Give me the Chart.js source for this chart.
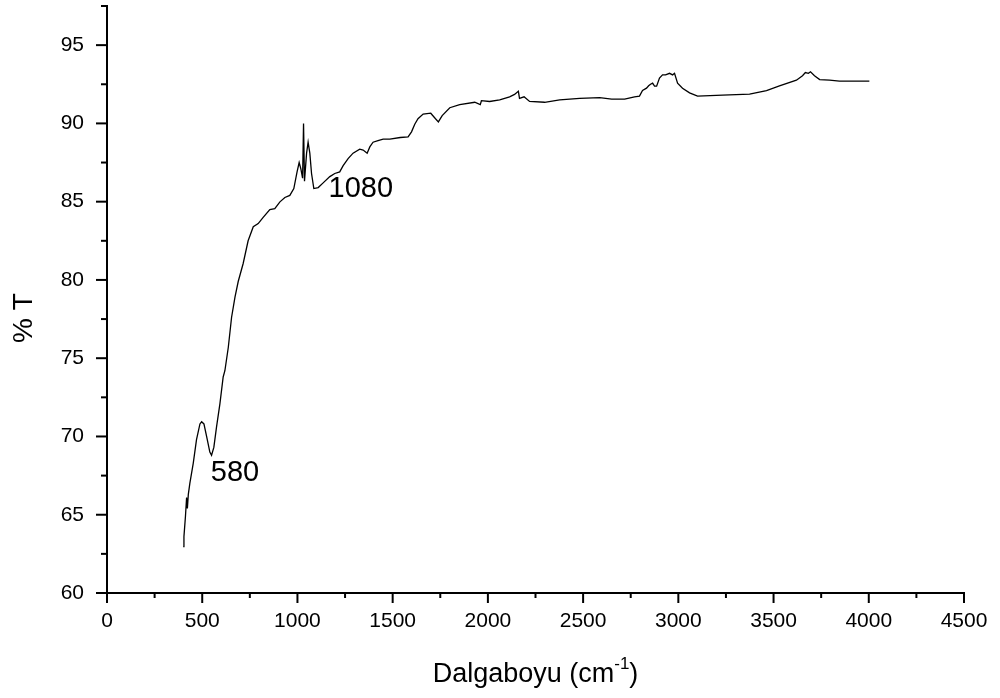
<!DOCTYPE html>
<html>
<head>
<meta charset="utf-8">
<script src="https://cdn.jsdelivr.net/npm/chart.js@4"></script>
<style>
  body { margin: 0; background: #fff; }
  #wrap { width: 1000px; height: 698px; }
</style>
</head>
<body>
<div id="wrap"><canvas id="ftirChart" width="1000" height="698"></canvas></div>
<script>
// FTIR spectrum
const wavenumber = [
  400, 404, 412, 418, 422, 427, 435, 453, 470, 488, 497, 509, 523, 540, 549, 561, 575, 593, 610, 619,
  637, 654, 672, 689, 715, 741, 768, 794, 820, 855, 881, 908, 934, 960, 981, 998, 1009, 1018, 1027, 1032,
  1037, 1048, 1056, 1065, 1074, 1086, 1109, 1135, 1170, 1196, 1222, 1240, 1266, 1292, 1327, 1345, 1366, 1380, 1397, 1423,
  1450, 1485, 1540, 1581, 1599, 1616, 1633, 1660, 1700, 1725, 1740, 1760, 1800, 1852, 1931, 1960, 1966, 2009, 2062, 2114,
  2140, 2160, 2166, 2190, 2219, 2298, 2377, 2482, 2587, 2650, 2718, 2770, 2796, 2812, 2833, 2844, 2854, 2865, 2875, 2886,
  2901, 2917, 2933, 2954, 2970, 2980, 2996, 3022, 3059, 3101, 3232, 3374, 3463, 3531, 3620, 3652, 3667, 3683, 3694, 3715,
  3742, 3794, 3846, 3925, 4003
];
const transmittance = [
  62.96, 63.6, 64.9, 66.1, 65.4, 66.3, 67.0, 68.3, 69.8, 70.8, 70.94, 70.8, 70.0, 69.0, 68.8, 69.3, 70.6, 72.1, 73.8, 74.2,
  75.7, 77.6, 78.9, 79.9, 81.05, 82.5, 83.4, 83.6, 84.0, 84.5, 84.56, 84.99, 85.27, 85.4, 85.84, 86.9, 87.5, 87.1, 86.5, 90.0,
  86.3, 88.1, 88.8, 88.1, 86.8, 85.84, 85.9, 86.2, 86.6, 86.8, 86.9, 87.3, 87.75, 88.1, 88.35, 88.3, 88.1, 88.5, 88.8, 88.9,
  89.0, 89.0, 89.1, 89.14, 89.46, 89.95, 90.3, 90.6, 90.65, 90.3, 90.1, 90.5, 91.0, 91.2, 91.35, 91.2, 91.45, 91.4, 91.5, 91.7,
  91.85, 92.05, 91.6, 91.7, 91.4, 91.35, 91.5, 91.6, 91.65, 91.55, 91.55, 91.7, 91.74, 92.1, 92.25, 92.4, 92.5, 92.57, 92.38, 92.38,
  92.9, 93.1, 93.1, 93.2, 93.1, 93.2, 92.57, 92.25, 91.95, 91.74, 91.8, 91.87, 92.1, 92.4, 92.76, 93.05, 93.25, 93.2, 93.3, 93.05,
  92.8, 92.76, 92.7, 92.7, 92.7
];

// peak labels
const peakLabels = ["1080", "580"];
const peakX = [1333, 672];
const peakY = [85.8, 67.66];

const xTitle = "Dalgaboyu (cm";
const xTitleSup = "-1";
const yTitle = "% T";

const FONT = "Arial, 'Liberation Sans', sans-serif";

// tick marks and texts drawn on top of the chart
const extrasPlugin = {
  id: "extras",
  afterDraw(chart) {
    const ctx = chart.ctx;
    const xs = chart.scales.x;
    const ys = chart.scales.y;
    const area = chart.chartArea;
    ctx.save();
    ctx.strokeStyle = "#000";
    ctx.lineWidth = 2;

    // x ticks, major every 500
    xs.ticks.forEach((t) => {
      const px = xs.getPixelForValue(t.value);
      const len = t.value % 500 === 0 ? 10 : 5;
      ctx.beginPath();
      ctx.moveTo(px, area.bottom);
      ctx.lineTo(px, area.bottom + len);
      ctx.stroke();
    });
    // y ticks, major every 5
    ys.ticks.forEach((t) => {
      const py = ys.getPixelForValue(t.value);
      const len = t.value % 5 === 0 ? 11 : 6;
      ctx.beginPath();
      ctx.moveTo(area.left, py);
      ctx.lineTo(area.left - len, py);
      ctx.stroke();
    });

    ctx.fillStyle = "#000";
    // peak labels
    ctx.font = "29px " + FONT;
    ctx.textAlign = "center";
    ctx.textBaseline = "middle";
    peakLabels.forEach((lbl, i) => {
      ctx.fillText(lbl, xs.getPixelForValue(peakX[i]), ys.getPixelForValue(peakY[i]));
    });

    // x axis title with superscript
    ctx.textBaseline = "alphabetic";
    ctx.textAlign = "left";
    ctx.font = "27px " + FONT;
    const mainW = ctx.measureText(xTitle).width;
    const closeW = ctx.measureText(")").width;
    ctx.font = "17px " + FONT;
    const supW = ctx.measureText(xTitleSup).width;
    const total = mainW + supW + closeW;
    let tx = (area.left + area.right) / 2 - total / 2;
    const baseY = 682;
    ctx.font = "27px " + FONT;
    ctx.fillText(xTitle, tx, baseY);
    tx += mainW;
    ctx.font = "17px " + FONT;
    ctx.fillText(xTitleSup, tx, baseY - 13);
    tx += supW;
    ctx.font = "27px " + FONT;
    ctx.fillText(")", tx, baseY);

    // y axis title
    ctx.translate(24, 318);
    ctx.rotate(-Math.PI / 2);
    ctx.textAlign = "center";
    ctx.textBaseline = "middle";
    ctx.font = "28px " + FONT;
    ctx.fillText(yTitle, 0, 0);
    ctx.restore();
  }
};

const ctx = document.getElementById("ftirChart").getContext("2d");
const ftirChart = new Chart(ctx, {
  type: "scatter",
  data: {
    datasets: [{
      label: "FTIR",
      data: wavenumber.map((w, i) => ({ x: w, y: transmittance[i] })),
      showLine: true,
      borderColor: "#000",
      borderWidth: 1.3,
      pointRadius: 0,
      tension: 0
    }]
  },
  options: {
    responsive: false,
    animation: false,
    layout: { padding: { top: 6, right: 36, left: 0, bottom: 0 } },
    plugins: { legend: { display: false }, tooltip: { enabled: false } },
    scales: {
      x: {
        type: "linear",
        min: 0,
        max: 4500,
        afterFit: (s) => { s.height = 105; s.paddingLeft = 0; s.paddingRight = 0; },
        ticks: {
          stepSize: 250,
          autoSkip: false,
          maxRotation: 0,
          padding: 16,
          color: "#000",
          font: { family: FONT, size: 21 },
          callback: (v) => (v % 500 === 0 ? v : "")
        },
        grid: { display: true, drawOnChartArea: false, drawTicks: false },
        border: { display: true, color: "#000", width: 2 }
      },
      y: {
        type: "linear",
        min: 60,
        max: 97.5,
        afterFit: (s) => { s.width = 107; s.paddingTop = 0; s.paddingBottom = 0; },
        ticks: {
          stepSize: 2.5,
          autoSkip: false,
          padding: 23,
          color: "#000",
          font: { family: FONT, size: 21 },
          callback: (v) => (v % 5 === 0 ? v : "")
        },
        grid: { display: true, drawOnChartArea: false, drawTicks: false },
        border: { display: true, color: "#000", width: 2 }
      }
    }
  },
  plugins: [extrasPlugin]
});
</script>
</body>
</html>
